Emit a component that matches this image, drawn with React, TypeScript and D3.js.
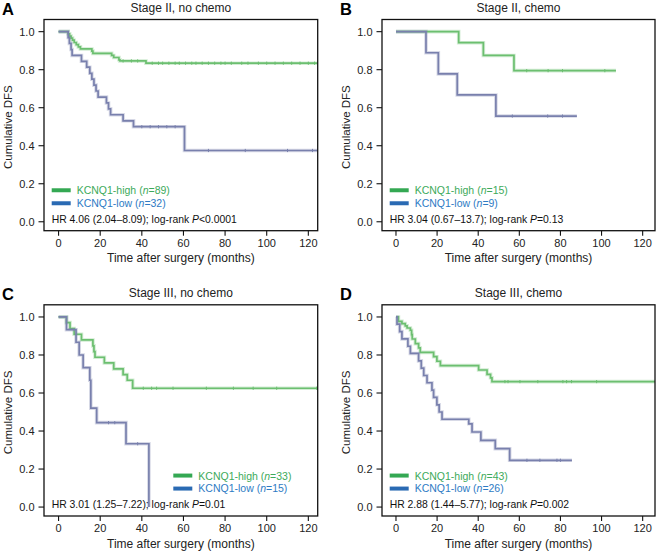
import React from "react";
import * as d3 from "d3";

// ---------- DATA ----------
const xTicks = [0, 20, 40, 60, 80, 100, 120];
const yTicks = [0, 0.2, 0.4, 0.6, 0.8, 1.0];

// Panel A: Stage II, no chemo
const aHigh: [number, number][] = [[0, 1], [4.6, 0.989], [5.3, 0.977], [6, 0.966], [6.7, 0.955], [7.5, 0.943], [8.5, 0.932], [9.5, 0.92], [10.5, 0.909], [16, 0.898], [16.5, 0.886], [25.5, 0.875], [26.5, 0.864], [29, 0.852], [29.5, 0.846], [42, 0.834]];
const aHighEnd = 124.5;
const aHighCens = [31, 35, 38, 45, 48, 50, 53, 56, 58, 61, 64, 66, 69, 72, 75, 78, 80, 83, 88, 91, 96, 100, 104, 108, 112, 116, 120, 123];
const aLow: [number, number][] = [[0, 1], [4.6, 0.969], [5.2, 0.938], [6, 0.906], [6.5, 0.875], [11, 0.844], [13.5, 0.813], [15, 0.781], [16, 0.75], [17, 0.719], [18, 0.688], [19, 0.656], [23, 0.625], [24, 0.594], [25, 0.563], [31, 0.531], [36, 0.5], [60.5, 0.375]];
const aLowEnd = 124.5;
const aLowCens = [40, 44, 48, 52, 56, 72, 89.7, 110, 122];

// Panel B: Stage II, chemo
const bHigh: [number, number][] = [[0, 1], [30.5, 0.942], [42.5, 0.875], [57.4, 0.795]];
const bHighEnd = 107;
const bHighCens = [63.6, 74, 81, 101.6];
const bLow: [number, number][] = [[0, 1], [14.6, 0.889], [20.6, 0.778], [29.8, 0.667], [48.6, 0.556]];
const bLowEnd = 88;
const bLowCens = [56.6, 73.8, 81];

// Panel C: Stage III, no chemo
const cHigh: [number, number][] = [[0, 1], [3.8, 0.97], [5.5, 0.939], [7.5, 0.909], [11, 0.879], [16.5, 0.848], [17, 0.818], [17.5, 0.788], [22, 0.758], [26.5, 0.727], [31, 0.697], [33, 0.667], [35.6, 0.625]];
const cHighEnd = 124.5;
const cHighCens = [40.7, 44.7, 47.1, 55, 71, 84, 93.5, 104.8, 124];
const cLow: [number, number][] = [[0, 1], [3.8, 0.933], [8.4, 0.867], [9.9, 0.8], [11.8, 0.733], [15, 0.667], [15.5, 0.52], [18.3, 0.444], [32.4, 0.333], [43.4, 0]];
const cLowEnd = 43.4;
const cLowCens = [24, 27, 38];

// Panel D: Stage III, chemo
const dHigh: [number, number][] = [[0, 1], [1.2, 0.977], [2.9, 0.965], [4.5, 0.953], [5.4, 0.942], [7, 0.93], [7.6, 0.907], [7.9, 0.884], [9.4, 0.86], [11, 0.837], [11.8, 0.814], [18.3, 0.791], [19.9, 0.767], [21.6, 0.744], [40.2, 0.721], [44.3, 0.698], [46, 0.68], [46.7, 0.66]];
const dHighEnd = 126;
const dHighCens = [53, 54.5, 60.3, 69, 81.2, 83, 85.4, 97.6];
const dLow: [number, number][] = [[0, 1], [0.5, 0.962], [1.8, 0.923], [2.9, 0.885], [5.8, 0.846], [7, 0.808], [11, 0.769], [12.3, 0.731], [13.5, 0.692], [15.1, 0.654], [17.5, 0.615], [18.3, 0.577], [19.9, 0.538], [21, 0.5], [22.4, 0.462], [35.4, 0.438], [37, 0.395], [41.3, 0.351], [48.3, 0.307], [55.3, 0.246]];
const dLowEnd = 85.6;
const dLowCens = [63.7, 70, 78.3, 80];

const titles = ["Stage II, no chemo", "Stage II, chemo", "Stage III, no chemo", "Stage III, chemo"];
const letters = ["A", "B", "C", "D"];
const nHigh = [89, 15, 33, 43];
const nLow = [32, 9, 15, 26];
const hrText = ["HR 4.06 (2.04\u20138.09); log-rank ", "HR 3.04 (0.67\u201313.7); log-rank ", "HR 3.01 (1.25\u20137.22); log-rank ", "HR 2.88 (1.44\u20135.77); log-rank "];
const pText = ["<0.0001", "=0.13", "=0.01", "=0.002"];

// ---------- STYLE ----------
const FONT = "'Liberation Sans', Arial, Helvetica, sans-serif";
const GREEN_LINE = "#6cbf70";
const BLUE_LINE = "#7980ad";
const GREEN_LEG = "#34a853";
const BLUE_LEG = "#2a6ab3";
const GREEN_TXT = "#3daa5a";
const BLUE_TXT = "#2e7bc4";

type PanelCfg = {
  idx: number;
  left: number; right: number; top: number; bottom: number;
  xDom: [number, number];
  high: [number, number][]; highEnd: number; highCens: number[];
  low: [number, number][]; lowEnd: number; lowCens: number[];
  legendRight: boolean;
};

const panels: PanelCfg[] = [
  { idx: 0, left: 44, right: 317.7, top: 19.5, bottom: 230.7, xDom: [-7, 124.5], high: aHigh, highEnd: aHighEnd, highCens: aHighCens, low: aLow, lowEnd: aLowEnd, lowCens: aLowCens, legendRight: false },
  { idx: 1, left: 382, right: 655, top: 19.5, bottom: 230.7, xDom: [-6.8, 126], high: bHigh, highEnd: bHighEnd, highCens: bHighCens, low: bLow, lowEnd: bLowEnd, lowCens: bLowCens, legendRight: false },
  { idx: 2, left: 44, right: 317.7, top: 304.8, bottom: 516, xDom: [-7, 124.5], high: cHigh, highEnd: cHighEnd, highCens: cHighCens, low: cLow, lowEnd: cLowEnd, lowCens: cLowCens, legendRight: true },
  { idx: 3, left: 382, right: 655, top: 304.8, bottom: 516, xDom: [-6.8, 126], high: dHigh, highEnd: dHighEnd, highCens: dHighCens, low: dLow, lowEnd: dLowEnd, lowCens: dLowCens, legendRight: false },
];

function survAt(steps: [number, number][], t: number) {
  let s = 1;
  for (const [tt, v] of steps) if (tt <= t) s = v;
  return s;
}

function Curve({ steps, end, cens, color, x, y }: any) {
  const pts: [number, number][] = [...steps, [end, steps[steps.length - 1][1]]];
  const line = d3.line<[number, number]>().x((d) => x(d[0])).y((d) => y(d[1])).curve(d3.curveStepAfter);
  const d = line(pts) || "";
  return (
    <g>
      <path d={d} fill="none" stroke={color} strokeOpacity={0.3} strokeWidth={3.6} />
      <path d={d} fill="none" stroke={color} strokeWidth={1.7} />
      {cens.map((t: number, i: number) => (
        <line key={i} x1={x(t)} x2={x(t)} y1={y(survAt(steps, t)) - 1.6} y2={y(survAt(steps, t)) + 1.6} stroke={color} strokeWidth={1} />
      ))}
    </g>
  );
}

function Panel({ cfg }: { cfg: PanelCfg }) {
  const x = d3.scaleLinear().domain(cfg.xDom).range([cfg.left, cfg.right]);
  const y = d3.scaleLinear().domain([-0.047, 1.064]).range([cfg.bottom, cfg.top]);
  const i = cfg.idx;
  const cx = (cfg.left + cfg.right) / 2;
  const legX = cfg.legendRight ? cfg.left + 129.3 : cfg.left + 7.7;
  const legTextX = legX + 25;
  const yZero = y(0);
  const hrX = cfg.left + 7.7;
  return (
    <g fontFamily={FONT}>
      <text x={cfg.left - 42} y={cfg.top - 4.5} fontSize={16.5} fontWeight="bold" fill="#000">{letters[i]}</text>
      <text x={cx} y={cfg.top - 7.5} fontSize={12} textAnchor="middle" fill="#222">{titles[i]}</text>
      <Curve steps={cfg.high} end={cfg.highEnd} cens={cfg.highCens} color={GREEN_LINE} x={x} y={y} />
      <Curve steps={cfg.low} end={cfg.lowEnd} cens={cfg.lowCens} color={BLUE_LINE} x={x} y={y} />
      <rect x={cfg.left} y={cfg.top} width={cfg.right - cfg.left} height={cfg.bottom - cfg.top} fill="none" stroke="#111" strokeWidth={1.3} />
      {yTicks.map((t) => (
        <g key={t}>
          <line x1={cfg.left - 5.5} x2={cfg.left} y1={y(t)} y2={y(t)} stroke="#111" strokeWidth={1.1} />
          <text x={cfg.left - 9.5} y={y(t) + 3.9} fontSize={11} textAnchor="end" fill="#222">{t.toFixed(1)}</text>
        </g>
      ))}
      {xTicks.map((t) => (
        <g key={t}>
          <line x1={x(t)} x2={x(t)} y1={cfg.bottom} y2={cfg.bottom + 5} stroke="#111" strokeWidth={1.1} />
          <text x={x(t)} y={cfg.bottom + 16.3} fontSize={11} textAnchor="middle" fill="#222">{t}</text>
        </g>
      ))}
      <text x={cx} y={cfg.bottom + 31.5} fontSize={12} textAnchor="middle" fill="#222">Time after surgery (months)</text>
      <text transform={`translate(${cfg.left - 32.5},${(cfg.top + cfg.bottom) / 2 + 2}) rotate(-90)`} fontSize={11.5} textAnchor="middle" fill="#222">Cumulative DFS</text>
      <line x1={legX} x2={legX + 19} y1={yZero - 31.5} y2={yZero - 31.5} stroke={GREEN_LEG} strokeWidth={4} />
      <line x1={legX} x2={legX + 19} y1={yZero - 18.5} y2={yZero - 18.5} stroke={BLUE_LEG} strokeWidth={4} />
      <text x={legTextX} y={yZero - 27.5} fontSize={10.5} fill={GREEN_TXT}>KCNQ1-high (<tspan fontStyle="italic">n</tspan>={nHigh[i]})</text>
      <text x={legTextX} y={yZero - 14.8} fontSize={10.5} fill={BLUE_TXT}>KCNQ1-low (<tspan fontStyle="italic">n</tspan>={nLow[i]})</text>
      <text x={hrX} y={yZero + 1.2} fontSize={10.4} fill="#111">{hrText[i]}<tspan fontStyle="italic">P</tspan>{pText[i]}</text>
    </g>
  );
}

export default function App() {
  return (
    <svg width={657} height={554} style={{ position: "absolute", left: 0, top: 0, background: "#fff" }}>
      <rect x={0} y={0} width={657} height={554} fill="#fff" />
      {panels.map((p) => (
        <Panel key={p.idx} cfg={p} />
      ))}
    </svg>
  );
}
